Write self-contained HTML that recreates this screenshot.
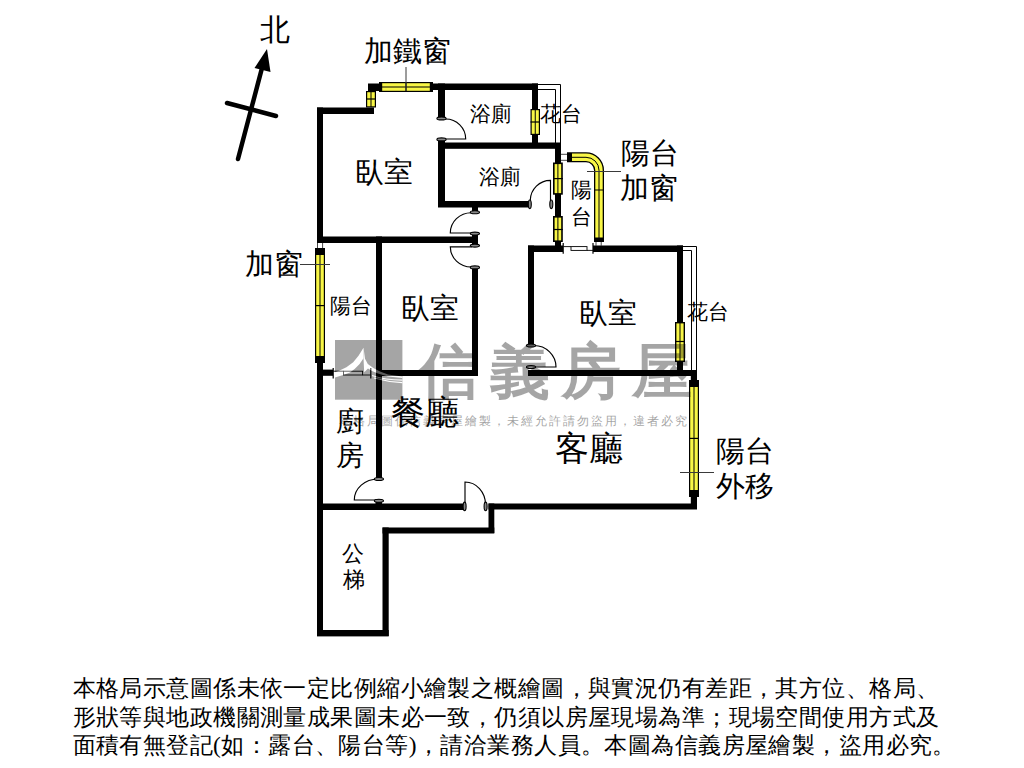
<!DOCTYPE html>
<html><head><meta charset="utf-8">
<style>
html,body{margin:0;padding:0;background:#fff;width:1024px;height:768px;overflow:hidden}
body{position:relative;font-family:"Liberation Serif",serif;color:#000}
svg{position:absolute;left:0;top:0}
.t{position:absolute;white-space:nowrap;line-height:1}
.wm{position:absolute;left:0;top:0;width:1024px;height:768px}
.para{position:absolute;left:72.5px;top:674px;font-size:23.4px;letter-spacing:0.43px;line-height:28.7px;white-space:nowrap}
</style></head><body>
<svg width="1024" height="768" viewBox="0 0 1024 768">
<line x1="238" y1="159" x2="262" y2="68" stroke="#000" stroke-width="4.5" stroke-linecap="round"/>
<polygon points="267,49 254.5,68 270.5,72" fill="#000"/>
<line x1="227" y1="103" x2="276" y2="116" stroke="#000" stroke-width="4.5" stroke-linecap="round"/>
<rect x="317.00" y="107.50" width="57.00" height="6.50" fill="#000"/>
<rect x="317.00" y="107.50" width="6.00" height="135.50" fill="#000"/>
<rect x="368.00" y="83.50" width="12.00" height="7.50" fill="#000"/>
<rect x="433.00" y="83.50" width="105.00" height="6.50" fill="#000"/>
<rect x="438.00" y="83.50" width="7.00" height="34.50" fill="#000"/>
<rect x="532.00" y="83.50" width="6.00" height="60.50" fill="#000"/>
<rect x="438.00" y="142.50" width="123.00" height="6.30" fill="#000"/>
<rect x="438.00" y="139.00" width="7.00" height="68.00" fill="#000"/>
<rect x="438.00" y="201.00" width="91.00" height="6.50" fill="#000"/>
<rect x="555.00" y="143.00" width="6.00" height="109.00" fill="#000"/>
<rect x="472.00" y="205.00" width="6.00" height="7.00" fill="#000"/>
<rect x="317.00" y="236.50" width="161.00" height="6.50" fill="#000"/>
<rect x="472.00" y="233.00" width="6.00" height="13.00" fill="#000"/>
<rect x="472.00" y="267.00" width="6.00" height="109.00" fill="#000"/>
<rect x="376.00" y="236.50" width="6.00" height="241.50" fill="#000"/>
<rect x="376.00" y="370.00" width="102.00" height="6.00" fill="#000"/>
<rect x="317.00" y="363.00" width="6.00" height="273.00" fill="#000"/>
<rect x="528.00" y="245.50" width="35.00" height="6.50" fill="#000"/>
<rect x="593.00" y="245.50" width="90.00" height="6.50" fill="#000"/>
<rect x="528.00" y="245.50" width="6.00" height="100.00" fill="#000"/>
<rect x="677.00" y="245.50" width="6.00" height="125.00" fill="#000"/>
<rect x="528.00" y="370.00" width="169.00" height="6.00" fill="#000"/>
<rect x="690.80" y="370.00" width="6.20" height="139.00" fill="#000"/>
<rect x="317.00" y="503.50" width="147.00" height="6.50" fill="#000"/>
<rect x="488.50" y="503.50" width="208.50" height="6.00" fill="#000"/>
<rect x="488.50" y="503.50" width="5.80" height="29.50" fill="#000"/>
<rect x="382.50" y="527.50" width="111.80" height="6.00" fill="#000"/>
<rect x="382.50" y="527.50" width="6.20" height="108.50" fill="#000"/>
<rect x="317.00" y="630.00" width="71.70" height="6.40" fill="#000"/>
<rect x="317.00" y="369.60" width="16.00" height="6.20" fill="#000"/>
<rect x="375.50" y="499.00" width="6.50" height="11.00" fill="#000"/>
<rect x="379.00" y="82.00" width="54.00" height="10.00" fill="#000"/>
<rect x="382.20" y="83.20" width="47.60" height="3.30" fill="#f8f646"/>
<rect x="382.20" y="87.50" width="47.60" height="3.30" fill="#f8f646"/>
<rect x="405.40" y="82.00" width="1.20" height="10.00" fill="#000"/>
<rect x="366.00" y="91.00" width="10.00" height="16.50" fill="#000"/>
<rect x="367.20" y="92.20" width="3.30" height="14.10" fill="#f8f646"/>
<rect x="371.50" y="92.20" width="3.30" height="14.10" fill="#f8f646"/>
<rect x="366.00" y="98.40" width="10.00" height="1.20" fill="#000"/>
<rect x="530.50" y="109.00" width="9.50" height="26.00" fill="#000"/>
<rect x="531.70" y="110.20" width="3.05" height="23.60" fill="#f8f646"/>
<rect x="535.75" y="110.20" width="3.05" height="23.60" fill="#f8f646"/>
<rect x="530.50" y="121.40" width="9.50" height="1.20" fill="#000"/>
<rect x="553.00" y="162.50" width="9.80" height="32.20" fill="#000"/>
<rect x="554.60" y="164.10" width="2.80" height="29.00" fill="#f8f646"/>
<rect x="558.40" y="164.10" width="2.80" height="29.00" fill="#f8f646"/>
<rect x="553.00" y="178.00" width="9.80" height="1.20" fill="#000"/>
<rect x="553.00" y="216.00" width="9.80" height="26.00" fill="#000"/>
<rect x="554.60" y="217.60" width="2.80" height="22.80" fill="#f8f646"/>
<rect x="558.40" y="217.60" width="2.80" height="22.80" fill="#f8f646"/>
<rect x="553.00" y="228.90" width="9.80" height="1.20" fill="#000"/>
<rect x="315.00" y="248.00" width="10.00" height="115.00" fill="#000"/>
<rect x="316.20" y="255.00" width="3.30" height="101.00" fill="#f8f646"/>
<rect x="320.50" y="255.00" width="3.30" height="101.00" fill="#f8f646"/>
<rect x="315.00" y="305.00" width="10.00" height="1.20" fill="#000"/>
<rect x="675.00" y="322.00" width="10.00" height="40.00" fill="#000"/>
<rect x="676.40" y="323.40" width="3.10" height="37.20" fill="#f8f646"/>
<rect x="680.50" y="323.40" width="3.10" height="37.20" fill="#f8f646"/>
<rect x="675.00" y="340.90" width="10.00" height="1.20" fill="#000"/>
<rect x="689.00" y="380.00" width="10.00" height="117.00" fill="#000"/>
<rect x="690.20" y="387.00" width="3.30" height="103.00" fill="#f8f646"/>
<rect x="694.50" y="387.00" width="3.30" height="103.00" fill="#f8f646"/>
<rect x="689.00" y="437.80" width="10.00" height="1.20" fill="#000"/>
<g fill="none" stroke-linecap="butt">
<path d="M567,157.3 H586 A13,13 0 0 1 599,170.3 V242" stroke="#000" stroke-width="10"/>
<path d="M572,157.3 H586 A13,13 0 0 1 599,170.3 V237.5" stroke="#f8f646" stroke-width="7.4"/>
<path d="M571,157.3 H586 A13,13 0 0 1 599,170.3 V238" stroke="#000" stroke-width="1"/>
</g>
<rect x="594.00" y="189.50" width="10.00" height="1.00" fill="#000"/>
<g stroke="#333" stroke-width="0.9">
<line x1="561" y1="154.3" x2="567" y2="154.3" stroke="#333" stroke-width="0.9"/>
<line x1="561" y1="160.3" x2="567" y2="160.3" stroke="#333" stroke-width="0.9"/>
<line x1="596" y1="242" x2="596" y2="246" stroke="#333" stroke-width="0.9"/>
<line x1="601.2" y1="242" x2="601.2" y2="246" stroke="#333" stroke-width="0.9"/>
<line x1="317.5" y1="243" x2="317.5" y2="248" stroke="#333" stroke-width="0.9"/>
<line x1="322.6" y1="243" x2="322.6" y2="248" stroke="#333" stroke-width="0.9"/>
</g>
<g stroke="#000" stroke-width="1" fill="none">
<path d="M538,84.5 H560.5 V143"/>
<path d="M538,89.5 H555.5 V143"/>
<path d="M683,246.5 H696.5 V370"/>
<path d="M683,250.5 H691.5 V370"/>
</g>
<g stroke="#3a3a3a" stroke-width="1">
<line x1="406" y1="67" x2="406" y2="91" stroke="#3a3a3a" stroke-width="1"/>
<line x1="587" y1="171.5" x2="621" y2="171.5" stroke="#3a3a3a" stroke-width="1"/>
<line x1="300" y1="264.5" x2="330" y2="264.5" stroke="#3a3a3a" stroke-width="1"/>
<line x1="680" y1="472.5" x2="714" y2="472.5" stroke="#3a3a3a" stroke-width="1"/>
</g>
<g stroke="#000" stroke-width="1.15" fill="none">
<path d="M445.6,119 A20,20 0 0 1 465.7,139 H446"/>
<path d="M530.3,200 A20.2,20.2 0 0 1 550.5,180.3 V207"/>
<path d="M471.3,212.7 A21,20.3 0 0 0 450.3,233 H472"/>
<path d="M472,246.8 H450.3 A21,20.3 0 0 0 471.3,267"/>
<path d="M534,345.5 A22,21.5 0 0 1 556,367 H530"/>
<path d="M378,479 A23.7,21 0 0 0 354.3,500 H378"/>
<path d="M465,510 V482 A20.5,22.5 0 0 1 485.5,504.5"/>
</g>
<ellipse cx="441.5" cy="118.4" rx="4.6" ry="1.5" fill="#888" stroke="#000" stroke-width="1.1"/>
<ellipse cx="441.5" cy="139.4" rx="4.6" ry="1.5" fill="#888" stroke="#000" stroke-width="1.1"/>
<ellipse cx="474.9" cy="212.2" rx="4.6" ry="1.5" fill="#888" stroke="#000" stroke-width="1.1"/>
<ellipse cx="474.9" cy="233.6" rx="4.6" ry="1.5" fill="#888" stroke="#000" stroke-width="1.1"/>
<ellipse cx="474.9" cy="245.6" rx="4.6" ry="1.5" fill="#888" stroke="#000" stroke-width="1.1"/>
<ellipse cx="474.9" cy="267.4" rx="4.6" ry="1.5" fill="#888" stroke="#000" stroke-width="1.1"/>
<ellipse cx="531" cy="345.5" rx="4.6" ry="1.5" fill="#888" stroke="#000" stroke-width="1.1"/>
<ellipse cx="378.9" cy="479" rx="4.6" ry="1.5" fill="#888" stroke="#000" stroke-width="1.1"/>
<ellipse cx="378.9" cy="500.8" rx="4.6" ry="1.5" fill="#888" stroke="#000" stroke-width="1.1"/>
<ellipse cx="531" cy="367" rx="4.6" ry="1.5" fill="#888" stroke="#000" stroke-width="1.1"/>
<ellipse cx="529.8" cy="204.3" rx="1.5" ry="4.3" fill="#888" stroke="#000" stroke-width="1.1"/>
<ellipse cx="551.3" cy="204.3" rx="1.5" ry="4.3" fill="#888" stroke="#000" stroke-width="1.1"/>
<ellipse cx="464.6" cy="506.4" rx="1.5" ry="4.3" fill="#888" stroke="#000" stroke-width="1.1"/>
<ellipse cx="485.6" cy="506.4" rx="1.5" ry="4.3" fill="#888" stroke="#000" stroke-width="1.1"/>
<g stroke="#000" stroke-width="0.9" fill="#fff">
<path d="M563.2,243 V253.8 M593,243 V253.8" stroke-width="1.2"/>
<path d="M563.2,246.6 H571 M587,250.4 H593" fill="none"/>
<rect x="571" y="246.6" width="16" height="3.8"/>
<path d="M333.2,368 V378.5 M370.8,368 V378.5" stroke-width="1.2"/>
<path d="M333.2,371.2 H343.5 M362.6,375 H370.8" fill="none"/>
<rect x="343.5" y="371.2" width="19.1" height="3.8"/>
</g>
</svg>
<div class="t" style="left:259.6px;top:14.9px;font-size:30px;font-weight:400">北</div>
<div class="t" style="left:363.9px;top:37.8px;font-size:28.5px;font-weight:400">加鐵窗</div>
<div class="t" style="left:354.7px;top:159.0px;font-size:28.5px;font-weight:400">臥室</div>
<div class="t" style="left:469.8px;top:103.8px;font-size:21.4px;font-weight:400">浴廁</div>
<div class="t" style="left:540.3px;top:104.3px;font-size:21.4px;font-weight:400">花台</div>
<div class="t" style="left:478.6px;top:166.5px;font-size:21.4px;font-weight:400">浴廁</div>
<div class="t" style="left:570.5px;top:180.1px;font-size:21.4px;font-weight:400">陽</div>
<div class="t" style="left:570.7px;top:206.8px;font-size:21.4px;font-weight:400">台</div>
<div class="t" style="left:620.5px;top:140.3px;font-size:28.5px;font-weight:400">陽台</div>
<div class="t" style="left:620.2px;top:175.3px;font-size:28.5px;font-weight:400">加窗</div>
<div class="t" style="left:245.1px;top:251.1px;font-size:28.5px;font-weight:400">加窗</div>
<div class="t" style="left:329.9px;top:296.4px;font-size:21.4px;font-weight:400">陽台</div>
<div class="t" style="left:401.2px;top:295.2px;font-size:28.5px;font-weight:400">臥室</div>
<div class="t" style="left:579.2px;top:300.1px;font-size:28.5px;font-weight:400">臥室</div>
<div class="t" style="left:686.9px;top:301.9px;font-size:21.4px;font-weight:400">花台</div>
<div class="t" style="left:390.8px;top:395.2px;font-size:34.3px;font-weight:500">餐廳</div>
<div class="t" style="left:335.7px;top:408.0px;font-size:28.4px;font-weight:400">廚</div>
<div class="t" style="left:335.7px;top:442.0px;font-size:28.4px;font-weight:400">房</div>
<div class="t" style="left:555.0px;top:430.8px;font-size:34.3px;font-weight:400">客廳</div>
<div class="t" style="left:715.6px;top:438.4px;font-size:28.5px;font-weight:400">陽台</div>
<div class="t" style="left:715.5px;top:472.9px;font-size:28.5px;font-weight:400">外移</div>
<div class="t" style="left:342.3px;top:543.0px;font-size:21.9px;font-weight:400">公</div>
<div class="t" style="left:342.5px;top:568.5px;font-size:21.9px;font-weight:400">梯</div>

<svg width="1024" height="768" viewBox="0 0 1024 768" style="opacity:0.35">
<rect x="335" y="340" width="67.4" height="59.7" fill="#000"/>
<path fill="#fff" d="M335,372.3 L339.6,370.5 L346.4,367.3 L353.2,362.3 L358.7,355.5 L363.5,347.7 L363.5,358.2 L359.6,364.1 L354.6,369.1 L350,372.5 L343.2,375 L335,377.5 Z"/>
<path fill="#fff" d="M363.5,347.7 L365,358.7 L367.8,364.1 L373.7,368.2 L380,371.6 L388,374.4 L402.4,376.5 L402.4,378 L388,376.5 L378,373.6 L372,371 L368,368.5 L364.2,372.3 L369.6,375 L364.2,372.3 L363.5,358.2 Z"/>
<path fill="none" stroke="#fff" stroke-width="1.2" d="M372,375.5 Q385,380 402.4,380.2 M374,378 Q388,382 402.4,382.6"/>
</svg>
<div class="t" style="left:418.75px;top:341.5px;font-family:'Liberation Sans',sans-serif;font-size:60px;letter-spacing:11px;font-weight:700;color:#000;opacity:0.35">信義房屋</div>
<div class="t" style="left:338.5px;top:414.5px;font-family:'Liberation Sans',sans-serif;font-size:12px;letter-spacing:2px;color:#000;opacity:0.36">本格局圖係信義房屋繪製，未經允許請勿盜用，違者必究</div>
<div class="para">本格局示意圖係未依一定比例縮小繪製之概繪圖，與實況仍有差距，其方位、格局、<br>形狀等與地政機關測量成果圖未必一致，仍須以房屋現場為準；現場空間使用方式及<br>面積有無登記(如：露台、陽台等)，請洽業務人員。本圖為信義房屋繪製，盜用必究。</div>
</body></html>
